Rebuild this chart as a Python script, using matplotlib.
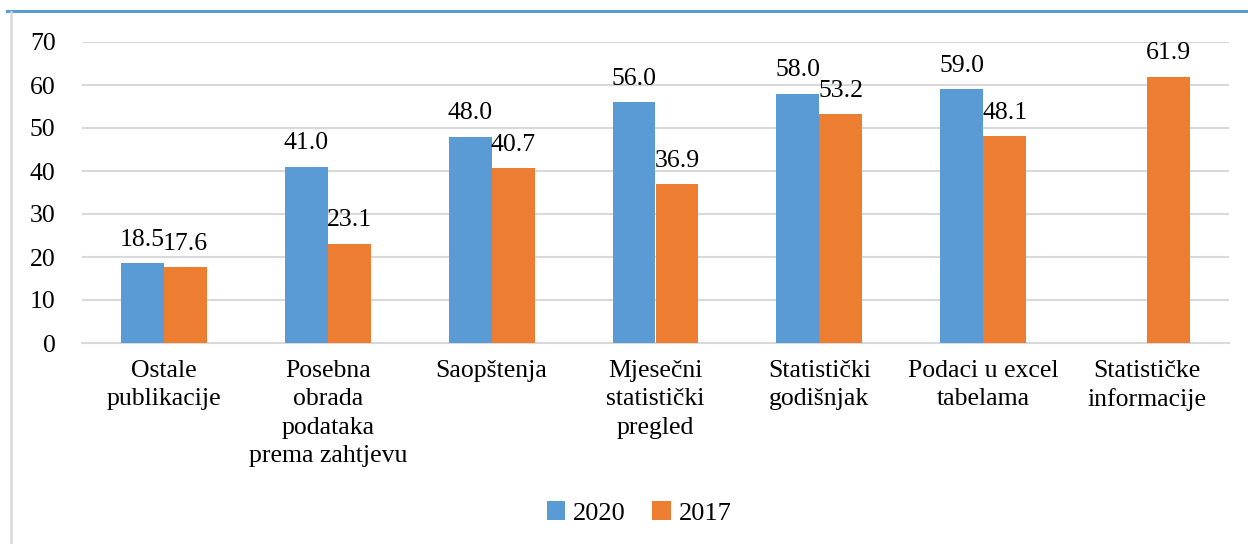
import matplotlib
matplotlib.use('Agg')
import matplotlib.pyplot as plt
from matplotlib.lines import Line2D
import numpy as np

categories = ['Ostale\npublikacije', 'Posebna\nobrada\npodataka\nprema zahtjevu',
              'Saopštenja', 'Mjesečni\nstatistički\npregled', 'Statistički\ngodišnjak',
              'Podaci u excel\ntabelama', 'Statističke\ninformacije']
values_2020 = [18.5, 41.0, 48.0, 56.0, 58.0, 59.0, np.nan]
values_2017 = [17.6, 23.1, 40.7, 36.9, 53.2, 48.1, 61.9]
series_names = ['2020', '2017']

BLUE = '#5B9BD5'
ORANGE = '#ED7D31'
GRID = '#D9D9D9'

plt.rcParams['font.family'] = ['Liberation Serif', 'DejaVu Serif']
plt.rcParams['font.size'] = 18.5

fig = plt.figure(figsize=(12.48, 5.44), dpi=100)
ax = fig.add_axes([82 / 1248, 1 - 343 / 544, (1229 - 82) / 1248, (343 - 42) / 544])

x = np.arange(len(categories))
w = 0.262
bars_a = ax.bar(x - w / 2, values_2020, w, color=BLUE, label=series_names[0], zorder=3)
bars_b = ax.bar(x + w / 2, values_2017, w, color=ORANGE, label=series_names[1], zorder=3)

for bars, vals in [(bars_a, values_2020), (bars_b, values_2017)]:
    for b, v in zip(bars, vals):
        if np.isnan(v):
            continue
        ax.annotate(f'{v:.1f}', (b.get_x() + b.get_width() / 2, v),
                    xytext=(0, 12.5), textcoords='offset points',
                    ha='center', va='baseline', fontsize=18.5, zorder=4)

ax.set_xlim(-0.5, len(categories) - 0.5)
ax.set_ylim(0, 70)
ax.set_yticks(np.arange(0, 71, 10))
ax.set_xticks(x)
ax.set_xticklabels(categories, linespacing=1.38)
ax.yaxis.grid(True, color=GRID, linewidth=1.5, zorder=0)
ax.tick_params(axis='both', length=0)
ax.tick_params(axis='x', pad=12)
ax.tick_params(axis='y', pad=19)
for side in ['top', 'right', 'left']:
    ax.spines[side].set_visible(False)
ax.spines['bottom'].set_color(GRID)
ax.spines['bottom'].set_linewidth(1.5)

fig.legend(loc='center', bbox_to_anchor=(639 / 1248, 1 - 513 / 544), ncol=2,
           frameon=False, handlelength=0.7, handleheight=0.7, handletextpad=0.3,
           columnspacing=1.0, fontsize=19)

# chart frame: blue line on top, grey line on the left
fig.add_artist(Line2D([7 / 1248, 1], [1 - 11 / 544, 1 - 11 / 544],
                      color=BLUE, linewidth=2.2, transform=fig.transFigure))
fig.add_artist(Line2D([11 / 1248, 11 / 1248], [0, 1 - 12 / 544],
                      color=GRID, linewidth=1.8, transform=fig.transFigure))

fig.savefig('out.png', dpi=100, facecolor='white')
